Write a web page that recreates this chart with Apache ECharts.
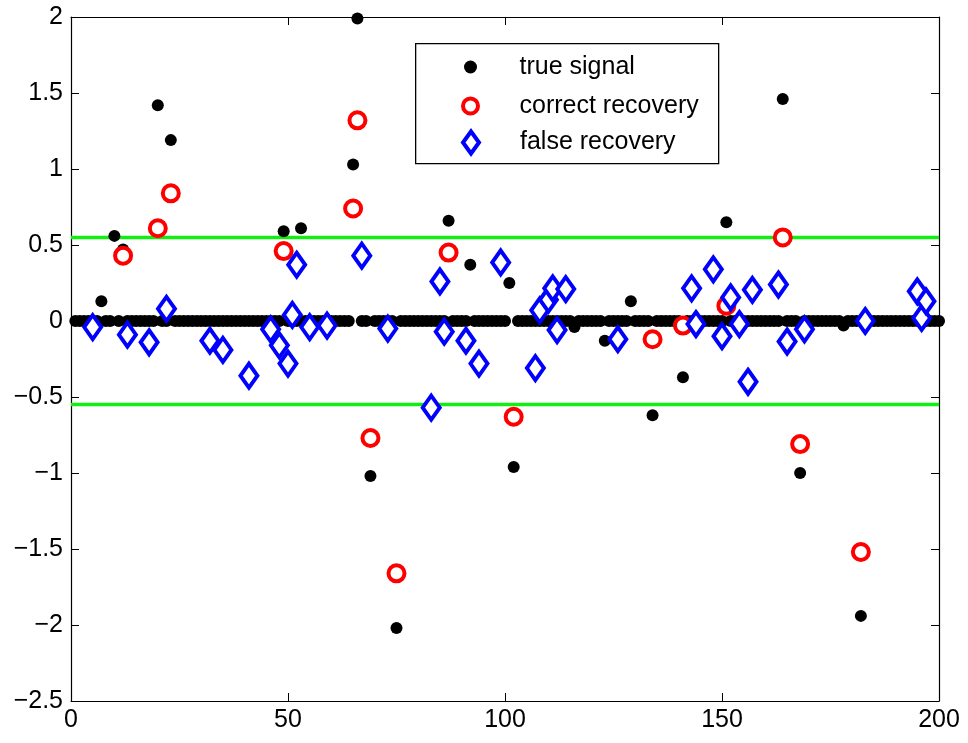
<!DOCTYPE html>
<html>
<head>
<meta charset="utf-8">
<script src="https://cdn.jsdelivr.net/npm/echarts@6/dist/echarts.min.js"></script>
<style>html,body{margin:0;padding:0;background:#fff}#c{width:968px;height:743px}</style>
</head>
<body>
<div id="c"></div>
<script>
// true signal, x = 1..200
var trueSignal = [
  0,0,0,0,0,0,0.13,0,0,0.56,
  0,0.47,0,0,0,0,0,0,0,1.42,
  0,0,1.19,0,0,0,0,0,0,0,
  0,0,0,0,0,0,0,0,0,0,
  0,0,0,0,0,0,0,0,0.59,0,
  0,0,0.61,0,0,0,0,0,0,0,
  0,0,0,0,1.03,1.99,0,0,-1.02,0,
  0,0,0,0,-2.02,0,0,0,0,0,
  0,0,0,0,0,0,0.66,0,0,0,
  0,0.37,0,0,0,0,0,0,0,0,
  0.25,-0.96,0,0,0,0,0,0,0,0,
  0,0,0,0,0,-0.04,0,0,0,0,
  0,0,-0.13,0,0,0,0,0,0.13,0,
  0,0,0,-0.62,0,0,0,0,0,0,
  -0.37,0,0,0,0,0,0,0,0,0,
  0.65,0,0,0,0,0,0,0,0,0,
  0,0,0,1.46,0,0,0,-1.0,0,0,
  0,0,0,0,0,0,0,-0.03,0,0,
  0,-1.94,0,0,0,0,0,0,0,0,
  0,0,0,0,0,0,0,0,0,0
];
var correctX = [12,20,23,49,65,66,69,75,87,102,134,141,151,164,168,182];
var correctY = [0.43,0.61,0.84,0.46,0.74,1.32,-0.77,-1.66,0.45,-0.63,-0.12,-0.03,0.10,0.55,-0.81,-1.52];
var falseX = [5,13,18,22,32,35,41,46,48,50,51,52,55,59,67,73,83,85,86,91,94,99,107,108,110,111,112,114,126,143,144,148,150,152,154,156,157,163,165,169,183,195,196,197];
var falseY = [-0.04,-0.09,-0.14,0.08,-0.13,-0.19,-0.36,-0.055,-0.16,-0.28,0.04,0.37,-0.04,-0.03,0.43,-0.05,-0.57,0.26,-0.07,-0.13,-0.28,0.385,-0.31,0.07,0.14,0.215,-0.06,0.21,-0.12,0.215,-0.02,0.34,-0.10,0.155,-0.02,-0.40,0.205,0.24,-0.135,-0.055,0.0,0.195,0.02,0.13];
var threshold = 0.55;
var thrX = [0, 200];
var xTicks = {min: 0, max: 200, interval: 50};
var yTicks = {min: -2.5, max: 2, interval: 0.5};
var legendNames = ['true signal', 'correct recovery', 'false recovery'];
var titleText = '(sparse signal, n=200), (k=25, m=80)';

var FONT = 'Liberation Sans';
var trueData = trueSignal.map(function (v, i) { return [i + 1, v]; });
var correctData = correctX.map(function (x, i) { return [x, correctY[i]]; });
var falseData = falseX.map(function (x, i) { return [x, falseY[i]]; });
var upper = thrX.map(function (x) { return [x, threshold]; });
var lower = thrX.map(function (x) { return [x, -threshold]; });

function fmt(v) { return String(+v.toFixed(2)).replace('-', '\u2212'); }

var axisLine = {show: true, onZero: false, lineStyle: {color: '#000', width: 1.2}};
var tick = {show: true, inside: true, length: 8, lineStyle: {color: '#000', width: 1}};
var labelStyle = {color: '#000', fontSize: 25, fontFamily: FONT};

var chart = echarts.init(document.getElementById('c'), null, {renderer: 'canvas'});
var diamondPath = 'path://M8,0L16,11L8,22L0,11Z';
chart.setOption({
  animation: false,
  backgroundColor: '#fff',
  title: {text: titleText, left: 'center', top: -24, padding: 0,
    textStyle: {fontSize: 23, fontWeight: 'normal', color: '#000', fontFamily: FONT}},
  grid: {left: 71, right: 29, top: 17, bottom: 42},
  xAxis: [
    {type: 'value', min: xTicks.min, max: xTicks.max, interval: xTicks.interval, position: 'bottom',
     axisLine: axisLine, axisTick: tick, splitLine: {show: false},
     axisLabel: Object.assign({margin: 7, formatter: fmt}, labelStyle)},
    {type: 'value', min: xTicks.min, max: xTicks.max, interval: xTicks.interval, position: 'top',
     axisLine: axisLine, axisTick: tick, splitLine: {show: false}, axisLabel: {show: false}}
  ],
  yAxis: [
    {type: 'value', min: yTicks.min, max: yTicks.max, interval: yTicks.interval, position: 'left',
     axisLine: axisLine, axisTick: tick, splitLine: {show: false},
     axisLabel: Object.assign({margin: 8, formatter: fmt}, labelStyle)},
    {type: 'value', min: yTicks.min, max: yTicks.max, interval: yTicks.interval, position: 'right',
     axisLine: axisLine, axisTick: tick, splitLine: {show: false}, axisLabel: {show: false}}
  ],
  graphic: [{type: 'rect', left: 415, top: 43, z: 3,
    shape: {width: 303, height: 120}, style: {fill: '#fff', stroke: '#000', lineWidth: 1.3}}],
  legend: [
    {data: [legendNames[0]], left: 464, top: 54.5, padding: 0, itemWidth: 88, itemHeight: 13, z: 5,
     textStyle: labelStyle, itemStyle: {borderWidth: 0}},
    {data: [legendNames[1]], left: 461, top: 93.5, padding: 0, itemWidth: 88, itemHeight: 15, z: 5,
     textStyle: labelStyle, itemStyle: {borderWidth: 4}},
    {data: [{name: legendNames[2], icon: diamondPath}], left: 461, top: 129.5, padding: 0, itemWidth: 88, itemHeight: 22, z: 5,
     textStyle: labelStyle, itemStyle: {borderWidth: 4}}
  ],
  series: [
    {type: 'line', data: upper, symbol: 'none', z: 1, silent: true,
     lineStyle: {color: '#11ee11', width: 3.5}},
    {type: 'line', data: lower, symbol: 'none', z: 1, silent: true,
     lineStyle: {color: '#11ee11', width: 3.5}},
    {name: legendNames[0], type: 'scatter', data: trueData, symbol: 'circle', symbolSize: 12, z: 2,
     itemStyle: {color: '#000', opacity: 1}},
    {name: legendNames[1], type: 'scatter', data: correctData, symbol: 'circle', symbolSize: 16, z: 3,
     itemStyle: {color: '#fff', borderColor: '#ff0000', borderWidth: 4, opacity: 1}},
    {name: legendNames[2], type: 'scatter', data: falseData, symbol: 'diamond', symbolSize: [17, 24], z: 4,
     itemStyle: {color: '#fff', borderColor: '#0000ff', borderWidth: 4, opacity: 1}}
  ]
});
</script>
</body>
</html>
